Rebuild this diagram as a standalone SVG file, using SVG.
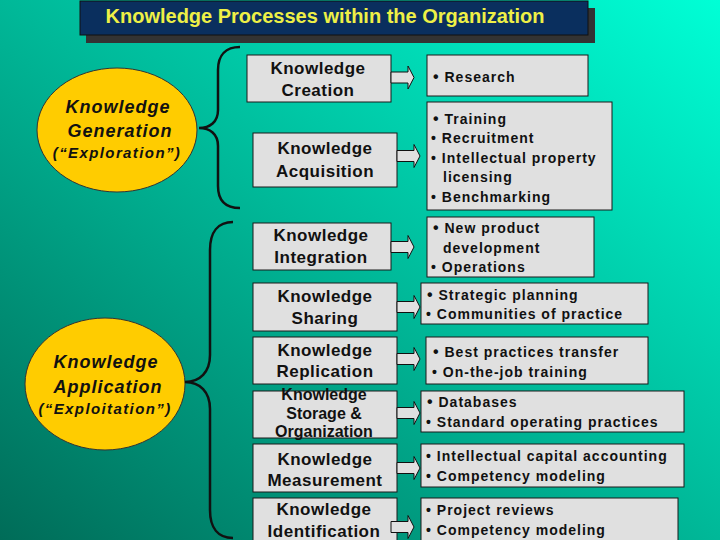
<svg xmlns="http://www.w3.org/2000/svg" width="720" height="540" viewBox="0 0 720 540">
<defs>
<linearGradient id="bg" x1="0" y1="1" x2="1" y2="0">
<stop offset="0" stop-color="#006C58"/>
<stop offset="0.5" stop-color="#00B898"/>
<stop offset="1" stop-color="#00FFD6"/>
</linearGradient>
<path id="arr" d="M0,-5.5 H17 V-11.5 L23,0 L17,11.5 V5.5 H0 Z"/>
</defs>
<style>
.box{fill:#E0E0E0;stroke:#1a1a1a;stroke-width:1}
.ell{fill:#FFCC00;stroke:#333;stroke-width:1}
.mid{font-family:"Liberation Sans",Arial,sans-serif;font-weight:bold;font-size:17px;letter-spacing:0.5px;fill:#111;text-anchor:middle}
.mid.sm{font-size:16px;letter-spacing:0}
.rt{font-family:"Liberation Sans",Arial,sans-serif;font-weight:bold;font-size:14px;letter-spacing:1px;fill:#111}
.el{font-family:"Liberation Sans",Arial,sans-serif;font-weight:bold;font-style:italic;font-size:18px;letter-spacing:1px;fill:#111;text-anchor:middle}
.el.sm{font-size:15px;letter-spacing:1.4px}
.brace{fill:none;stroke:#111;stroke-width:2.5}
.arrow use{fill:#E0E0E0;stroke:#111;stroke-width:1}
.b{font-size:16px}
</style>
<rect width="720" height="540" fill="url(#bg)"/>

<g id="title">
<rect x="86" y="8" width="509" height="35" fill="#333"/>
<rect x="80" y="1" width="508" height="34" fill="#0A2F5E" stroke="#111" stroke-width="1"/>
<text x="325" y="23" font-family="Liberation Sans, Arial, sans-serif" font-weight="bold" font-size="20" fill="#EEF046" text-anchor="middle">Knowledge Processes within the Organization</text>
</g>

<g id="knowledge-generation">
<ellipse class="ell" cx="117" cy="130" rx="80" ry="62"/>
<text class="el" x="118" y="113">Knowledge</text>
<text class="el" x="120" y="137">Generation</text>
<text class="el sm" x="117" y="158">(“Exploration”)</text>
</g>

<g id="knowledge-application">
<ellipse class="ell" cx="105" cy="384" rx="80" ry="66"/>
<text class="el" x="106" y="368">Knowledge</text>
<text class="el" x="108" y="393">Application</text>
<text class="el sm" x="105" y="414">(“Exploitation”)</text>
</g>

<g id="connectors">
<path class="brace" d="M240,47 C226,47 218,55 218,70 L218,110 C218,122 210,128 199,128 C210,128 218,134 218,146 L218,186 C218,201 226,208 240,208"/>
<path class="brace" d="M233,222 C218,222 210,232 210,250 L210,355 C210,372 200,382 185,382 C200,382 210,392 210,409 L210,510 C210,528 218,538 233,538"/>
</g>

<g id="knowledge-creation">
<rect class="box" x="247" y="55" width="144" height="47"/>
<text class="mid" x="318" y="74">Knowledge</text>
<text class="mid" x="318" y="96">Creation</text>
</g>
<g id="knowledge-acquisition">
<rect class="box" x="253" y="133" width="144" height="54"/>
<text class="mid" x="325" y="154">Knowledge</text>
<text class="mid" x="325" y="177">Acquisition</text>
</g>
<g id="knowledge-integration">
<rect class="box" x="253" y="223" width="138" height="47"/>
<text class="mid" x="321" y="241">Knowledge</text>
<text class="mid" x="321" y="263">Integration</text>
</g>
<g id="knowledge-sharing">
<rect class="box" x="253" y="283" width="144" height="48"/>
<text class="mid" x="325" y="302">Knowledge</text>
<text class="mid" x="325" y="324">Sharing</text>
</g>
<g id="knowledge-replication">
<rect class="box" x="253" y="337" width="144" height="47"/>
<text class="mid" x="325" y="356">Knowledge</text>
<text class="mid" x="325" y="377">Replication</text>
</g>
<g id="knowledge-storage">
<rect class="box" x="253" y="391" width="144" height="47"/>
<text class="mid sm" x="324" y="400">Knowledge</text>
<text class="mid sm" x="324" y="419">Storage &amp;</text>
<text class="mid sm" x="324" y="437">Organization</text>
</g>
<g id="knowledge-measurement">
<rect class="box" x="253" y="444" width="144" height="48"/>
<text class="mid" x="325" y="465">Knowledge</text>
<text class="mid" x="325" y="486">Measurement</text>
</g>
<g id="knowledge-identification">
<rect class="box" x="253" y="498" width="144" height="50"/>
<text class="mid" x="324" y="515">Knowledge</text>
<text class="mid" x="324" y="537">Identification</text>
</g>

<g id="arrows" class="arrow">
<use href="#arr" x="391" y="77.5"/>
<use href="#arr" x="397" y="156"/>
<use href="#arr" x="391" y="247"/>
<use href="#arr" x="397" y="307"/>
<use href="#arr" x="397" y="359"/>
<use href="#arr" x="397" y="413"/>
<use href="#arr" x="397" y="468"/>
<use href="#arr" x="391" y="527"/>
</g>

<g id="research">
<rect class="box" x="427" y="55" width="161" height="41"/>
<text class="rt" x="433" y="82"><tspan class="b">•</tspan> Research</text>
</g>
<g id="acquisition-items">
<rect class="box" x="427" y="102" width="185" height="108"/>
<text class="rt" x="433" y="124"><tspan class="b">•</tspan> Training</text>
<text class="rt" x="431" y="143">• Recruitment</text>
<text class="rt" x="431" y="163">• Intellectual property</text>
<text class="rt" x="443" y="182">licensing</text>
<text class="rt" x="431" y="202">• Benchmarking</text>
</g>
<g id="integration-items">
<rect class="box" x="427" y="217" width="167" height="60"/>
<text class="rt" x="433" y="233"><tspan class="b">•</tspan> New product</text>
<text class="rt" x="443" y="253">development</text>
<text class="rt" x="431" y="272">• Operations</text>
</g>
<g id="sharing-items">
<rect class="box" x="421" y="283" width="227" height="41"/>
<text class="rt" x="427" y="300"><tspan class="b">•</tspan> Strategic planning</text>
<text class="rt" x="426" y="319">• Communities of practice</text>
</g>
<g id="replication-items">
<rect class="box" x="426" y="337" width="222" height="47"/>
<text class="rt" x="433" y="357"><tspan class="b">•</tspan> Best practices transfer</text>
<text class="rt" x="432" y="377">• On-the-job training</text>
</g>
<g id="storage-items">
<rect class="box" x="421" y="391" width="263" height="41"/>
<text class="rt" x="427" y="407"><tspan class="b">•</tspan> Databases</text>
<text class="rt" x="426" y="427">• Standard operating practices</text>
</g>
<g id="measurement-items">
<rect class="box" x="421" y="444" width="263" height="43"/>
<text class="rt" x="426" y="461">• Intellectual capital accounting</text>
<text class="rt" x="426" y="481">• Competency modeling</text>
</g>
<g id="identification-items">
<rect class="box" x="421" y="498" width="257" height="50"/>
<text class="rt" x="426" y="515">• Project reviews</text>
<text class="rt" x="426" y="535">• Competency modeling</text>
</g>
</svg>
